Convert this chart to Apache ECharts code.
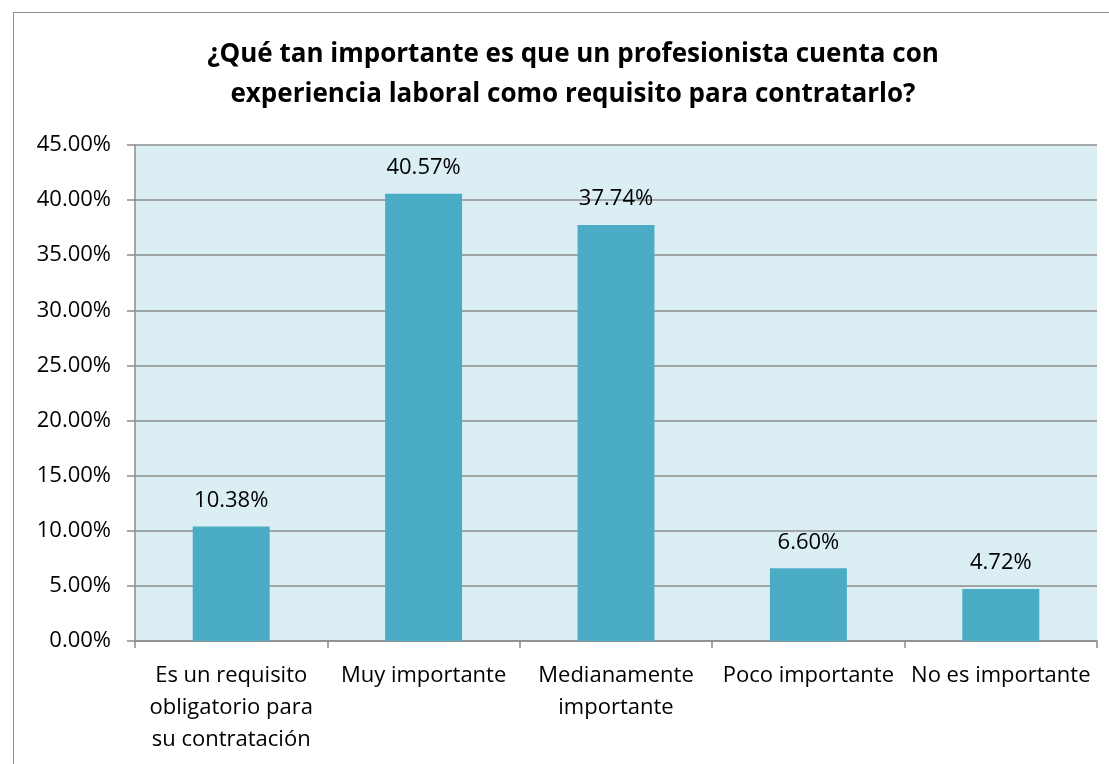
<!DOCTYPE html>
<html>
<head>
<meta charset="utf-8">
<script src="https://cdn.jsdelivr.net/npm/echarts@6/dist/echarts.min.js"></script>
<style>
    body { margin: 0; background: #fff; }
    #frame { position: absolute; left: 13px; top: 12px; width: 1096px; height: 752px;
             border-top: 1px solid #8c8c8c; border-left: 1px solid #8c8c8c; }
    #chart { position: absolute; left: 0; top: 0; width: 1109px; height: 764px; }
</style>
</head>
<body>
<div id="frame"></div>
<div id="chart"></div>
<script>
// categorias y valores (%)
let categories = [
    "Es un requisito\nobligatorio para\nsu contratación",
    "Muy importante",
    "Medianamente\nimportante",
    "Poco importante",
    "No es importante"
];
let values = [10.38, 40.57, 37.74, 6.60, 4.72];

let mychart = echarts.init(document.getElementById("chart"));
let options = {
    title: {
        text: "¿Qué tan importante es que un profesionista cuenta con\nexperiencia laboral como requisito para contratarlo?",
        left: 568,
        textAlign: "center",
        top: 30,
        textStyle: {
            fontFamily: "Open Sans",
            fontWeight: "bold",
            fontSize: 26,
            lineHeight: 40,
            color: "#000"
        }
    },
    grid: {
        left: 135,
        right: 12,
        top: 145,
        bottom: 123,
        show: true,
        backgroundColor: "#dbeef4",
        borderWidth: 0
    },
    xAxis: {
        type: "category",
        data: categories,
        axisLine: { lineStyle: { color: "#8c8c8c", width: 1.5 } },
        axisTick: { show: true, length: 7, lineStyle: { color: "#8c8c8c", width: 1.5 } },
        axisLabel: {
            interval: 0,
            margin: 19,
            fontFamily: "Open Sans",
            fontSize: 22,
            lineHeight: 32,
            color: "#000"
        }
    },
    yAxis: {
        type: "value",
        min: 0,
        max: 45,
        interval: 5,
        axisLine: { show: true, lineStyle: { color: "#8c8c8c", width: 1.5 } },
        axisTick: { show: true, length: 8, lineStyle: { color: "#8c8c8c", width: 1.5 } },
        splitLine: { lineStyle: { color: "#8c8c8c", width: 1.5 } },
        axisLabel: {
            margin: 24,
            fontFamily: "Open Sans",
            fontSize: 22,
            color: "#000",
            formatter: (v) => v.toFixed(2) + "%"
        }
    },
    series: [{
        type: "bar",
        data: values,
        barWidth: "40%",
        itemStyle: { color: "#4bacc6" },
        label: {
            show: true,
            position: "top",
            distance: 15,
            fontFamily: "Open Sans",
            fontSize: 22,
            color: "#000",
            formatter: (p) => p.value.toFixed(2) + "%"
        }
    }]
};
mychart.setOption(options);
</script>
</body>
</html>
